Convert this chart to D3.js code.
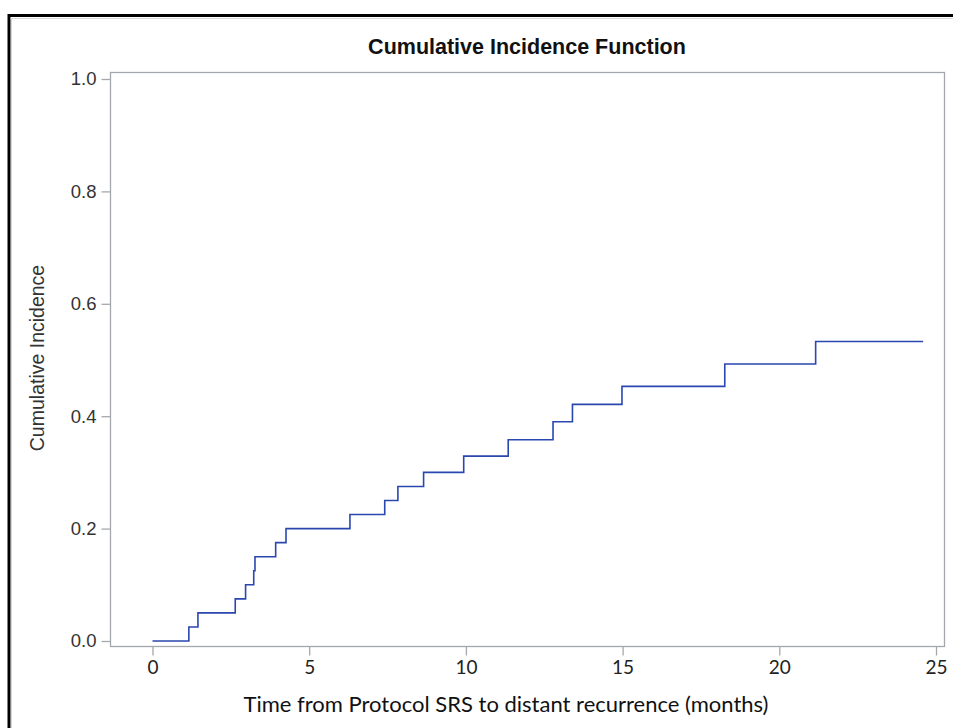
<!DOCTYPE html>
<html>
<head>
<meta charset="utf-8">
<script src="https://cdn.jsdelivr.net/npm/d3@7"></script>
<style>
  html, body { margin: 0; padding: 0; background: #fff; }
  svg { display: block; }
</style>
</head>
<body>
<script>
// Data: step times (months) and cumulative incidence after each step
const stepTimes = [0, 1.16, 1.45, 2.64, 2.97, 3.23, 3.27, 3.93, 4.26, 6.30, 7.41, 7.83, 8.65, 9.93, 11.35, 12.78, 13.40, 14.98, 18.26, 21.16];
const cifValues = [0, 0.025, 0.050, 0.075, 0.100, 0.125, 0.150, 0.175, 0.200, 0.225, 0.250, 0.275, 0.300, 0.329, 0.358, 0.390, 0.421, 0.453, 0.493, 0.533];
const lastTime = 24.59;
const xTicks = [0, 5, 10, 15, 20, 25];
const yTicks = [0.0, 0.2, 0.4, 0.6, 0.8, 1.0];

const W = 953, H = 728;
const frame = { left: 110, right: 944, top: 72, bottom: 646 };

const svg = d3.select("body").append("svg").attr("width", W).attr("height", H);

// outer black border (image crop frame)
svg.append("line").attr("x1", 8).attr("x2", W).attr("y1", 15.5).attr("y2", 15.5)
  .attr("stroke", "#000").attr("stroke-width", 3);
svg.append("line").attr("x1", 9).attr("x2", 9).attr("y1", 14).attr("y2", H)
  .attr("stroke", "#000").attr("stroke-width", 3);
svg.append("line").attr("x1", 10.5).attr("x2", W).attr("y1", 18.5).attr("y2", 18.5)
  .attr("stroke", "#d8d8d8").attr("stroke-width", 1);
svg.append("line").attr("x1", 11.5).attr("x2", 11.5).attr("y1", 18).attr("y2", H)
  .attr("stroke", "#d8d8d8").attr("stroke-width", 1);

const x = d3.scaleLinear().domain([0, 25]).range([152.5, 936]);
const y = d3.scaleLinear().domain([0, 1]).range([641, 79]);

// plot frame
svg.append("rect")
  .attr("x", frame.left + 0.5).attr("y", frame.top + 0.5)
  .attr("width", frame.right - frame.left).attr("height", frame.bottom - frame.top)
  .attr("fill", "none").attr("stroke", "#a4a8ac").attr("stroke-width", 1.3);

// Y axis
const yAxis = svg.append("g")
  .attr("transform", `translate(${frame.left + 0.5},0)`)
  .call(d3.axisLeft(y).tickValues(yTicks).tickFormat(d3.format(".1f")).tickSize(9).tickPadding(5));
yAxis.attr("font-size", 18.5).attr("font-family", "'Liberation Sans', Arial, sans-serif");
yAxis.select(".domain").remove();
yAxis.selectAll(".tick line").attr("stroke", "#a4a8ac").attr("stroke-width", 1.3);
yAxis.selectAll(".tick text").attr("fill", "#333");

// X axis
const xAxis = svg.append("g")
  .attr("transform", `translate(0,${frame.bottom + 0.5})`)
  .call(d3.axisBottom(x).tickValues(xTicks).tickFormat(d3.format("d")).tickSize(9).tickPadding(5));
xAxis.attr("font-size", 19).attr("font-family", "Lato, 'Open Sans', sans-serif");
xAxis.select(".domain").remove();
xAxis.selectAll(".tick line").attr("stroke", "#a4a8ac").attr("stroke-width", 1.3);
xAxis.selectAll(".tick text").attr("fill", "#222");

// step line
const pts = stepTimes.map((t, i) => [t, cifValues[i]]);
pts.push([lastTime, cifValues[cifValues.length - 1]]);
const line = d3.line().x(d => x(d[0])).y(d => y(d[1])).curve(d3.curveStepAfter);
svg.append("path").datum(pts)
  .attr("d", line).attr("fill", "none")
  .attr("stroke", "#2a47b0").attr("stroke-width", 1.6);

// title
svg.append("text")
  .attr("x", 527).attr("y", 54)
  .attr("text-anchor", "middle")
  .attr("font-family", "'Liberation Sans', Arial, sans-serif")
  .attr("font-size", 21.5).attr("font-weight", "bold")
  .attr("fill", "#111")
  .text("Cumulative Incidence Function");

// y axis title
svg.append("text")
  .attr("transform", "translate(44,358) rotate(-90)")
  .attr("text-anchor", "middle")
  .attr("font-family", "'Liberation Sans', Arial, sans-serif")
  .attr("font-size", 19.5)
  .attr("fill", "#333")
  .text("Cumulative Incidence");

// x axis title
svg.append("text")
  .attr("x", 506).attr("y", 712)
  .attr("text-anchor", "middle")
  .attr("font-family", "Lato, 'Open Sans', sans-serif")
  .attr("font-size", 22)
  .attr("fill", "#111")
  .text("Time from Protocol SRS to distant recurrence (months)");
</script>
</body>
</html>
